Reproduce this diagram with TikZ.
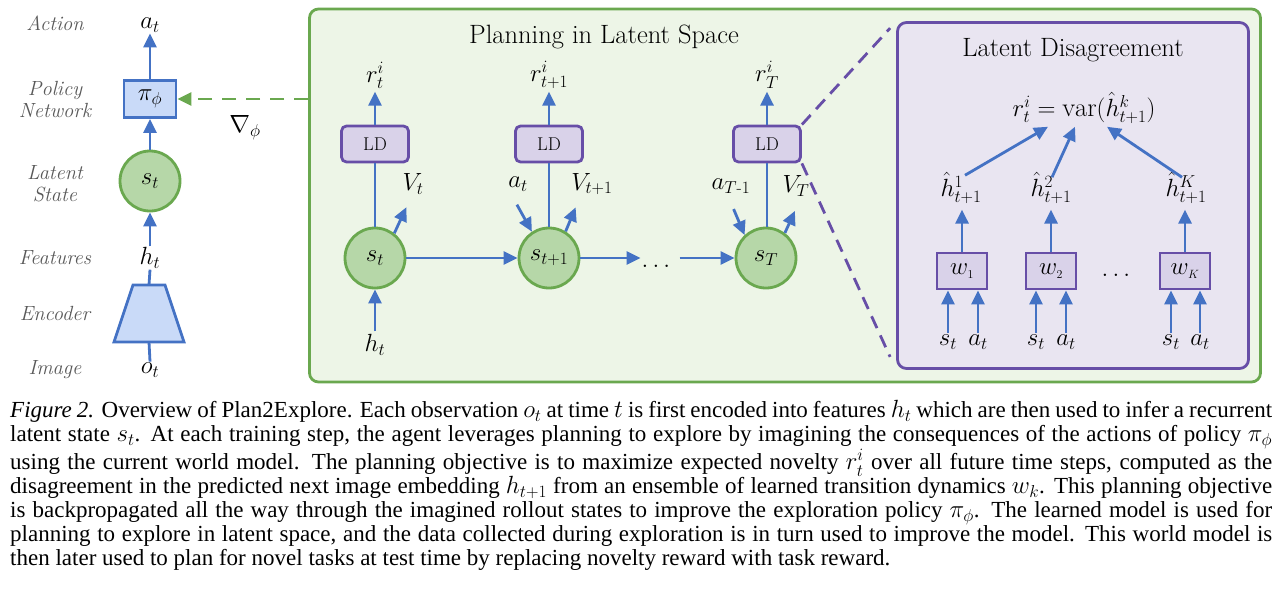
\documentclass[tikz,border=0pt]{standalone}
\usepackage{amsmath}
\usepackage{fontspec}
\newfontfamily\capfont{Liberation Serif}
\usetikzlibrary{arrows.meta,calc}
\definecolor{blueA}{HTML}{4472C4}
\definecolor{blueF}{HTML}{C9DAF8}
\definecolor{greenA}{HTML}{6AA84F}
\definecolor{greenF}{HTML}{B6D7A8}
\definecolor{greenBG}{HTML}{EDF5E7}
\definecolor{purpA}{HTML}{674EA7}
\definecolor{purpF}{HTML}{D9D2E9}
\definecolor{purpBG}{HTML}{E9E5F1}
\definecolor{grayT}{HTML}{595959}
\begin{document}
\begin{tikzpicture}[x=1pt,y=-1pt,
 tipA/.style={-{Triangle[length=14pt,width=13pt]}},
 arr/.style={draw=blueA,line width=2.8pt,tipA},
 ln/.style={draw=blueA,line width=2.8pt},
 sidelab/.style={font=\fontsize{20.5}{22}\selectfont\itshape,text=grayT,align=center,inner sep=0pt},
 mth/.style={font=\fontsize{24.5}{28}\selectfont,inner sep=1pt},
 rmth/.style={font=\fontsize{23}{26}\selectfont,inner sep=1pt},
 stnode/.style={circle,draw=greenA,fill=greenF,line width=2.8pt,minimum size=60pt,inner sep=0pt,font=\fontsize{24.5}{28}\selectfont},
 ldnode/.style={draw=purpA,fill=purpF,line width=2.8pt,rounded corners=5pt,minimum width=67pt,minimum height=36pt,inner sep=0pt,font=\fontsize{18.5}{20}\selectfont},
 wnode/.style={draw=purpA,fill=purpF,line width=2.8pt,minimum width=50pt,minimum height=36pt,inner sep=0pt,font=\fontsize{23}{26}\selectfont},
 ttl/.style={font=\fontsize{26.5}{30}\selectfont,inner sep=0pt},
 bigm/.style={font=\fontsize{26.5}{30}\selectfont,inner sep=1pt},
 dashG/.style={draw=greenA,line width=2.8pt,dash pattern=on 14pt off 10pt},
 dashP/.style={draw=purpA,line width=2.8pt,dash pattern=on 13pt off 8pt},
 dotnode/.style={font=\fontsize{26}{28}\selectfont,inner sep=1pt},
]
\fill[white] (0,0) rectangle (1282,608);
\useasboundingbox (0,0) rectangle (1282,608);

% ---------- left column ----------
\node[sidelab] at (55,23) {Action};
\node[sidelab] at (55,99) {Policy\\Network};
\node[sidelab] at (55,184) {Latent\\State};
\node[sidelab] at (55,258) {Features};
\node[sidelab] at (55,313) {Encoder};
\node[sidelab] at (55,370) {Image};

\node[mth] (at0) at (150,25) {$a_t$};
\node[draw=blueA,fill=blueF,line width=2.8pt,minimum width=52pt,minimum height=37pt,inner sep=0pt,font=\fontsize{24.5}{28}\selectfont] (pol) at (150,99) {$\pi_\phi$};
\node[stnode] (st0) at (150,181) {$s_t$};
\node[mth] (ht0) at (150,258) {$h_t$};
\node[mth] (ot0) at (150,370) {$o_t$};
\coordinate (encT) at (149,285);
\coordinate (encB) at (149,342);
\draw[blueA,fill=blueF,line width=2.8pt,line join=miter] (133,285) -- (165,285) -- (184,342) -- (114,342) -- cycle;

\draw[arr] (pol.north) -- (at0.south);
\draw[arr] (st0.north) -- (pol.south);
\draw[arr] (ht0.north) -- (st0.south);
\draw[ln] (ht0.south) -- (encT);
\draw[ln] (encB) -- (ot0.north);

% ---------- planning box ----------
\node[draw=greenA,fill=greenBG,line width=2.8pt,rounded corners=9pt,minimum width=951pt,minimum height=373pt,inner sep=0pt] (plan) at (785,195.5) {};
\node[ttl] (pt) at (604,37) {Planning in Latent Space};

\draw[dashG,tipA] (plan.west |- pol.east) -- (pol.east);
\node[mth] (grad) at (245,128) {$\nabla_\phi$};

\node[stnode] (s1) at (375,258) {$s_t$};
\node[stnode] (s2) at (549,258) {$s_{t+1}$};
\node[stnode] (s3) at (766,258) {$s_T$};
\node[dotnode,anchor=base] (pdots) at (656,267) {$\ldots$};

\draw[arr] (s1.east) -- (s2.west);
\draw[arr] (s2.east) -- (s2.east -| pdots.west);
\draw[arr] ($(s3.west -| pdots.east)+(8,0)$) -- (s3.west);

\node[ldnode] (ld1) at (375,144) {LD};
\node[ldnode] (ld2) at (549,144) {LD};
\node[ldnode] (ld3) at (767,144) {LD};
\node[rmth] (r1) at (375,75) {$r^i_t$};
\node[rmth] (r2) at (549,75) {$r^i_{t+1}$};
\node[rmth] (r3) at (767,75) {$r^i_T$};

\draw[ln] (s1.north) -- (ld1.south);
\draw[ln] (s2.north) -- (ld2.south);
\draw[ln] (s3.north -| ld3.south) -- (ld3.south);
\draw[arr] (ld1.north) -- ($(ld1.north)+(0,-33)$);
\draw[arr] (ld2.north) -- ($(ld2.north)+(0,-33)$);
\draw[arr] (ld3.north) -- ($(ld3.north)+(0,-33)$);

\node[mth] (v1) at (413,184) {$V_t$};
\node[mth] (v2) at (592,184) {$V_{t+1}$};
\node[mth] (v3) at (796,186) {$V_T$};
\node[mth] (a2) at (518,184) {$a_t$};
\node[mth] (a3) at (731,186) {$a_{T\text{-}1}$};

\draw[arr] (s1.52) -- ++(12,-26);
\draw[arr] (s2.58) -- ++(10,-24);
\draw[arr] (s3.53) -- ++(10,-22);
\draw[arr] ($(s2.123)+(-15,-27)$) -- (s2.123);
\draw[arr] ($(s3.133)+(-11,-26)$) -- (s3.133);

\node[mth] (h1in) at (375,345) {$h_t$};
\draw[arr] ($(h1in.north)+(0,-2)$) -- (s1.south);

% ---------- latent disagreement ----------
\node[draw=purpA,fill=purpBG,line width=2.8pt,rounded corners=9pt,minimum width=351pt,minimum height=346pt,inner sep=0pt] (ldz) at (1073,195.5) {};
\draw[dashP] (ld3.north east) -- ($(ldz.north west)+(-6,7)$);
\draw[dashP] (ld3.south east) -- ($(ldz.south west)+(-6,-13)$);
\node[ttl] (ldt) at (1073,50) {Latent Disagreement};

\node[bigm] (rf) at (1084,108) {$r^i_t=\mathrm{var}(\hat{h}^k_{t+1})$};
\node[bigm] (h1) at (961,188) {$\hat{h}^1_{t+1}$};
\node[bigm] (h2) at (1051,188) {$\hat{h}^2_{t+1}$};
\node[bigm] (hK) at (1186,188) {$\hat{h}^K_{t+1}$};

\node[wnode] (w1) at (962,271) {$w_{\scriptscriptstyle 1}$};
\node[wnode] (w2) at (1051,271) {$w_{\scriptscriptstyle 2}$};
\node[wnode] (wK) at (1185,271) {$w_{\scriptscriptstyle K}$};
\node[dotnode,anchor=base] (wdots) at (1116,276) {$\ldots$};

\draw[arr] (w1.north) -- ($(w1.north)+(0,-42)$);
\draw[arr] (w2.north) -- ($(w2.north)+(0,-42)$);
\draw[arr] (wK.north) -- ($(wK.north)+(0,-42)$);

\draw[arr] ($(h1.north)+(4,4)$) -- ($(rf.south)+(-36,2)$);
\draw[arr] ($(h2.north)+(1,6)$) -- ($(rf.south)+(-9,2)$);
\draw[arr] ($(hK.north)+(-4,6)$) -- ($(rf.south)+(23,2)$);

\foreach \nm/\xx/\lab/\bx in {sa/948/s/w1, aa/978/a/w1, sb/1036/s/w2, ab/1066/a/w2, sc/1171/s/wK, ac/1200/a/wK}{
  \node[mth] (\nm) at (\xx,342) {$\lab_t$};
  \draw[arr] ($(\nm.north)+(0,-1)$) -- (\nm.north |- \bx.south);
}

% ---------- caption ----------
\node[anchor=north west,inner sep=0pt,align=left,font=\capfont\fontsize{23}{24}\selectfont] (cap) at (10,400) {%
\makebox[1262pt][s]{\textit{Figure 2.} Overview of Plan2Explore. Each observation $o_t$ at time $t$ is first encoded into features $h_t$ which are then used to infer a recurrent}\\
\makebox[1262pt][s]{latent state $s_t$. At each training step, the agent leverages planning to explore by imagining the consequences of the actions of policy $\pi_\phi$}\\
\makebox[1262pt][s]{using the current world model. The planning objective is to maximize expected novelty $r^i_t$ over all future time steps, computed as the}\\
\makebox[1262pt][s]{disagreement in the predicted next image embedding $h_{t+1}$ from an ensemble of learned transition dynamics $w_k$. This planning objective}\\
\makebox[1262pt][s]{is backpropagated all the way through the imagined rollout states to improve the exploration policy $\pi_\phi$. The learned model is used for}\\
\makebox[1262pt][s]{planning to explore in latent space, and the data collected during exploration is in turn used to improve the model. This world model is}\\
then later used to plan for novel tasks at test time by replacing novelty reward with task reward.};
\end{tikzpicture}
\end{document}
